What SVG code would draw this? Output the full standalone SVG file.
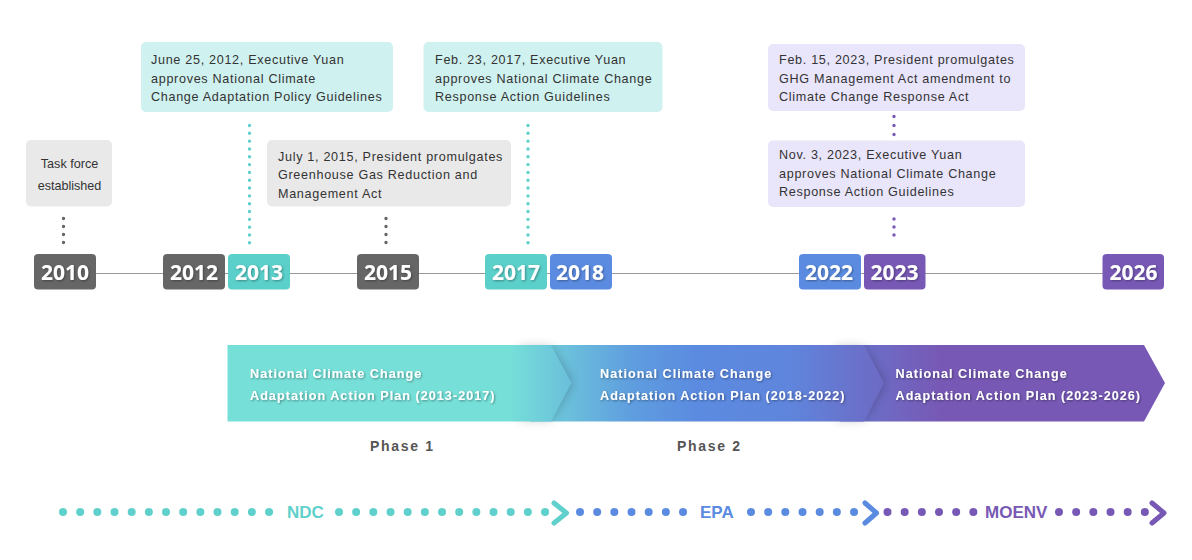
<svg xmlns="http://www.w3.org/2000/svg" width="1192" height="560" viewBox="0 0 1192 560">
<style>
.card{font:12.6px "Liberation Sans",Arial,sans-serif;letter-spacing:.69px;fill:#333}
.cardc{font:12.6px "Liberation Sans",Arial,sans-serif;fill:#333;text-anchor:middle}
.yr{font:bold 21px "Open Sans","Noto Sans",sans-serif;fill:#fff;text-anchor:middle;filter:url(#ts)}
.plan{font:bold 12.6px "Liberation Sans",Arial,sans-serif;letter-spacing:1.04px;fill:#fff;filter:url(#ts2)}
.ph{font:bold 14px "Liberation Sans",Arial,sans-serif;letter-spacing:1.7px;fill:#555}
.ag{font:bold 17px "Liberation Sans",Arial,sans-serif}
.line{stroke:#999;stroke-width:1.2;fill:none}
.d{fill:none;stroke-width:3.400;stroke-linecap:round}
.b{fill:none;stroke-width:8;stroke-linecap:round}
.c{fill:none;stroke-width:5;stroke-linecap:round;stroke-linejoin:round}
.t{stroke:#5FD0CB}.u{stroke:#5B8BE0}.p{stroke:#7759B5}.g{stroke:#666}
</style>
<defs>
<filter id="ts" x="-20%" y="-20%" width="140%" height="140%"><feDropShadow dx="1" dy="1" stdDeviation="1" flood-color="#000" flood-opacity=".35"/></filter>
<filter id="ts2" x="-5%" y="-20%" width="110%" height="140%"><feDropShadow dx="1" dy="1" stdDeviation="1" flood-color="#000" flood-opacity=".4"/></filter>
<filter id="sh" x="-30%" y="-30%" width="160%" height="160%"><feGaussianBlur stdDeviation="6"/></filter>
<linearGradient id="gr" gradientUnits="userSpaceOnUse" x1="227" y1="0" x2="1165" y2="0">
<stop offset="0" stop-color="#76E0D8"/><stop offset=".3" stop-color="#76E0D8"/><stop offset=".43" stop-color="#5F9EDF"/><stop offset=".5" stop-color="#5B8BE0"/><stop offset=".6" stop-color="#5F85DC"/><stop offset=".76" stop-color="#7759B5"/><stop offset="1" stop-color="#7759B5"/>
</linearGradient>
</defs>
<rect width="1192" height="560" fill="#fff"/>
<g id="connectors">
<path class="line" d="M96 273.500H1103"/>
<path class="d g" stroke-dasharray="0 8" d="M63.500 218.500V243M386 218.500V243"/>
<path class="d t" stroke-dasharray="0 7.820" d="M249.500 125.500V243M528 125.500V243"/>
<path class="d p" stroke-dasharray="0 9" d="M894 116.500V135"/>
<path class="d p" stroke-dasharray="0 8" d="M894 219V243"/>
</g>
<g id="card-2010"><rect x="26" y="140" width="86" height="66.500" rx="5" fill="#E9E9E9"/><text class="cardc" x="69.500" y="168">Task force</text><text class="cardc" x="69.500" y="190">established</text></g>
<g id="card-2012"><rect x="141" y="42" width="252" height="70" rx="5" fill="#CFF1EF"/><text class="card" x="151" y="64">June 25, 2012, Executive Yuan</text><text class="card" x="151" y="82.500">approves National Climate</text><text class="card" x="151" y="100.500">Change Adaptation Policy Guidelines</text></g>
<g id="card-2015"><rect x="267" y="140" width="244" height="66.500" rx="5" fill="#E9E9E9"/><text class="card" x="278" y="161">July 1, 2015, President promulgates</text><text class="card" x="278" y="179">Greenhouse Gas Reduction and</text><text class="card" x="278" y="197.500">Management Act</text></g>
<g id="card-2017"><rect x="423.500" y="42" width="239" height="70" rx="5" fill="#CFF1EF"/><text class="card" x="435" y="64">Feb. 23, 2017, Executive Yuan</text><text class="card" x="435" y="82.500">approves National Climate Change</text><text class="card" x="435" y="100.500">Response Action Guidelines</text></g>
<g id="card-2023a"><rect x="768" y="44" width="257" height="67" rx="5" fill="#E9E5FB"/><text class="card" x="779" y="64">Feb. 15, 2023, President promulgates</text><text class="card" x="779" y="82.500">GHG Management Act amendment to</text><text class="card" x="779" y="100.500">Climate Change Response Act</text></g>
<g id="card-2023b"><rect x="768" y="140.500" width="257" height="66.500" rx="5" fill="#E9E5FB"/><text class="card" x="779" y="159">Nov. 3, 2023, Executive Yuan</text><text class="card" x="779" y="177.500">approves National Climate Change</text><text class="card" x="779" y="196">Response Action Guidelines</text></g>
<g id="y2010"><rect x="34" y="254" width="62" height="35.500" rx="4" fill="#666"/><text class="yr" x="65" y="280">2010</text></g>
<g id="y2012"><rect x="163" y="254" width="62" height="35.500" rx="4" fill="#666"/><text class="yr" x="194" y="280">2012</text></g>
<g id="y2013"><rect x="228" y="254" width="62" height="35.500" rx="4" fill="#5BCFC9"/><text class="yr" x="259" y="280">2013</text></g>
<g id="y2015"><rect x="357" y="254" width="62" height="35.500" rx="4" fill="#666"/><text class="yr" x="388" y="280">2015</text></g>
<g id="y2017"><rect x="485" y="254" width="62" height="35.500" rx="4" fill="#5BCFC9"/><text class="yr" x="516" y="280">2017</text></g>
<g id="y2018"><rect x="550" y="254" width="62" height="35.500" rx="4" fill="#5B8BE0"/><text class="yr" x="580" y="280">2018</text></g>
<g id="y2022"><rect x="799" y="254" width="62" height="35.500" rx="4" fill="#5B8BE0"/><text class="yr" x="829" y="280">2022</text></g>
<g id="y2023"><rect x="864" y="254" width="61.500" height="35.500" rx="4" fill="#7759B5"/><text class="yr" x="894.500" y="280">2023</text></g>
<g id="y2026"><rect x="1102.500" y="254" width="61.500" height="35.500" rx="4" fill="#7759B5"/><text class="yr" x="1133.500" y="280">2026</text></g>
<g id="plan3"><path d="M840 345H1144L1165 383L1144 421.500H840Z" fill="url(#gr)"/></g>
<path d="M836 348H864L884 383L864 418.500H836Z" fill="#000" opacity=".28" filter="url(#sh)"/>
<g id="plan2"><path d="M530 345H864L884 383L864 421.500H530Z" fill="url(#gr)"/></g>
<path d="M520 348H551L571.500 383L551 418.500H520Z" fill="#000" opacity=".28" filter="url(#sh)"/>
<g id="plan1"><path d="M227.500 345H551L571.500 383L551 421.500H227.500Z" fill="url(#gr)"/></g>
<g id="plan-text">
<text class="plan" x="250" y="378">National Climate Change</text><text class="plan" x="250" y="400">Adaptation Action Plan (2013-2017)</text>
<text class="plan" x="600" y="378">National Climate Change</text><text class="plan" x="600" y="400">Adaptation Action Plan (2018-2022)</text>
<text class="plan" x="895.500" y="378">National Climate Change</text><text class="plan" x="895.500" y="400">Adaptation Action Plan (2023-2026)</text>
</g>
<text class="ph" x="370" y="451">Phase 1</text>
<text class="ph" x="677" y="451">Phase 2</text>
<g id="agencies">
<path class="b t" stroke-dasharray="0 17.170" d="M63 512H272"/>
<text class="ag" x="287" y="518" fill="#5FD0CB">NDC</text>
<path class="b t" stroke-dasharray="0 17.170" d="M339 512H547"/>
<path class="c t" d="M554 503L566.500 513L554 523"/>
<path class="b u" stroke-dasharray="0 17.170" d="M580 512H684"/>
<text class="ag" x="700" y="518" fill="#5B8BE0">EPA</text>
<path class="b u" stroke-dasharray="0 17.170" d="M751 512H856"/>
<path class="c u" d="M865 503L876.500 513L865 523"/>
<path class="b p" stroke-dasharray="0 17.170" d="M887.500 512H975"/>
<text class="ag" x="985" y="518" fill="#7759B5">MOENV</text>
<path class="b p" stroke-dasharray="0 17.170" d="M1059 512H1146"/>
<path class="c p" d="M1152 503L1164 513L1152 523"/>
</g>
</svg>
